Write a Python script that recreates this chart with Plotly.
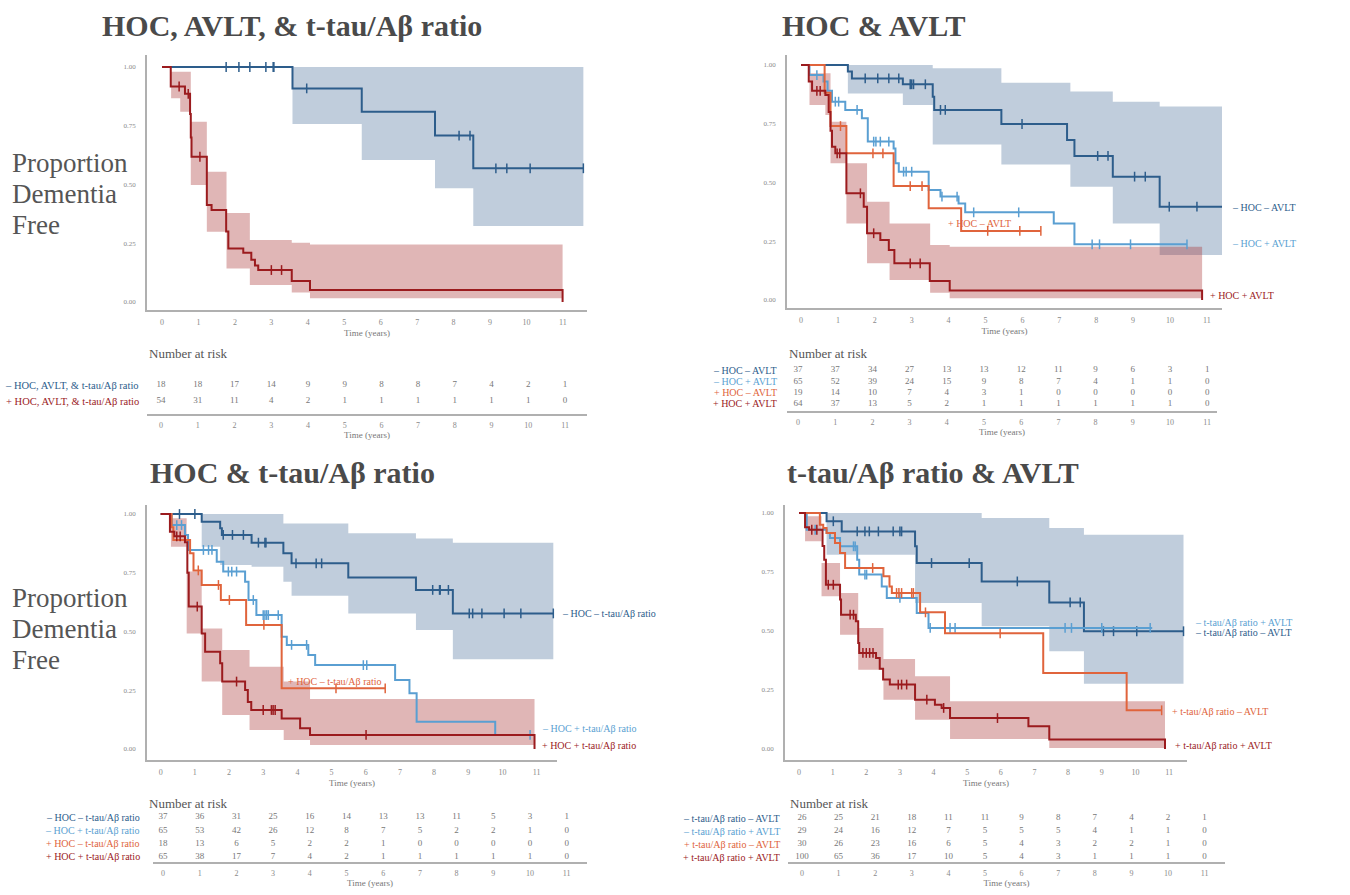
import plotly.graph_objects as go

W, H = 1350, 895
FONT = "Liberation Serif"
C_DB = "#2d5d8b"
C_LB = "#5a9fd2"
C_OR = "#e0643c"
C_DR = "#9b1b1e"
BAND_B = "rgba(60,100,145,0.32)"
BAND_R = "rgba(165,45,45,0.35)"
GRAY_AX = "#b0b0b0"
GRAY_TXT = "#8a8a8a"

RISK_TIMES = list(range(12))
Y_TICKS = [0, 0.25, 0.5, 0.75, 1.0]
Y_TICK_TEXT = ["0.00", "0.25", "0.50", "0.75", "1.00"]

# ---------------- Panel 1: HOC, AVLT, & t-tau/Abeta ratio ----------------
p1_neg_evt = [3.58, 5.48, 7.49, 8.54]
p1_neg_surv = [0.909, 0.81, 0.708, 0.569]
p1_neg_end = 11.56
p1_neg_cens = [1.76, 2.11, 2.41, 2.85, 3.05, 3.07, 3.97, 8.15, 8.45, 9.16, 9.46, 10.1, 11.56]
p1_neg_ci_t = [3.58, 5.48, 7.49, 8.54, 11.56]
p1_neg_ci_lo = [0.757, 0.604, 0.484, 0.323, 0.323]
p1_neg_ci_hi = [1.0, 1.0, 1.0, 1.0, 1.0]

p1_pos_evt = [0.24, 0.63, 0.77, 0.79, 0.81, 1.23, 1.36, 1.76, 1.82, 2.23, 2.45, 2.55, 2.64, 3.56, 4.06, 10.99]
p1_pos_surv = [0.917, 0.886, 0.80, 0.70, 0.618, 0.413, 0.391, 0.30, 0.228, 0.21, 0.18, 0.155, 0.136, 0.089, 0.051, 0.0]
p1_pos_end = 10.99
p1_pos_cens = [0.47, 0.72, 1.04, 3.0, 3.28]
p1_pos_ci_t = [0.25, 0.5, 0.79, 1.23, 1.77, 2.41, 3.56, 4.06, 10.99]
p1_pos_ci_lo = [0.867, 0.81, 0.498, 0.299, 0.143, 0.072, 0.04, 0.016, 0.016]
p1_pos_ci_hi = [0.98, 0.98, 0.767, 0.554, 0.379, 0.264, 0.252, 0.245, 0.245]

p1_risk_labels = ["– HOC, AVLT, & t-tau/Aβ ratio", "+ HOC, AVLT, & t-tau/Aβ ratio"]
p1_risk_neg = [18, 18, 17, 14, 9, 9, 8, 8, 7, 4, 2, 1]
p1_risk_pos = [54, 31, 11, 4, 2, 1, 1, 1, 1, 1, 1, 0]

# ---------------- Panel 2: HOC & AVLT ----------------
p2_nn_evt = [1.27, 1.38, 2.76, 3.57, 3.61, 5.43, 7.21, 7.41, 8.45, 9.72]
p2_nn_surv = [0.972, 0.943, 0.918, 0.865, 0.809, 0.749, 0.681, 0.613, 0.525, 0.397]
p2_nn_end = 11.41
p2_nn_cens = [1.74, 2.08, 2.38, 2.65, 2.96, 3.0, 3.05, 3.37, 3.78, 3.91, 5.99, 8.04, 8.32, 9.04, 9.33, 9.98, 10.73, 11.41]
p2_nn_ci_t = [1.27, 2.76, 3.57, 5.43, 7.3, 8.45, 9.72, 11.41]
p2_nn_ci_lo = [0.879, 0.83, 0.662, 0.577, 0.482, 0.326, 0.191, 0.191]
p2_nn_ci_hi = [1.0, 1.0, 0.986, 0.925, 0.887, 0.844, 0.823, 0.823]

p2_np_evt = [0.23, 0.61, 0.72, 0.84, 1.2, 1.65, 1.81, 2.51, 2.56, 2.65, 3.46, 3.78, 4.27, 4.45, 6.85, 7.41]
p2_np_surv = [0.957, 0.93, 0.89, 0.844, 0.809, 0.773, 0.674, 0.645, 0.582, 0.546, 0.468, 0.44, 0.411, 0.373, 0.326, 0.237]
p2_np_end = 10.46
p2_np_cens = [0.43, 0.93, 1.02, 1.52, 1.97, 2.03, 2.15, 2.38, 2.78, 2.85, 3.0, 3.82, 4.23, 4.68, 5.9, 7.89, 8.09, 8.93, 10.46]

p2_pn_evt = [0.64, 0.8, 1.23, 2.51, 3.46, 4.34]
p2_pn_surv = [0.882, 0.74, 0.624, 0.485, 0.39, 0.294]
p2_pn_end = 6.5
p2_pn_cens = [1.07, 1.95, 2.22, 2.96, 3.28, 5.06, 5.93, 6.5]

p2_pp_evt = [0.21, 0.3, 0.66, 0.75, 0.8, 0.84, 0.93, 1.23, 1.7, 1.79, 2.15, 2.38, 2.53, 3.49, 4.03, 10.87]
p2_pp_surv = [0.93, 0.89, 0.872, 0.8, 0.72, 0.652, 0.624, 0.454, 0.397, 0.284, 0.255, 0.213, 0.156, 0.081, 0.04, 0.0]
p2_pp_end = 10.87
p2_pp_cens = [0.43, 0.52, 0.98, 1.05, 1.61, 1.97, 2.96, 3.23]
p2_pp_ci_t = [0.23, 0.66, 0.8, 1.23, 1.79, 2.4, 3.5, 4.03, 10.87]
p2_pp_ci_lo = [0.83, 0.787, 0.582, 0.326, 0.156, 0.085, 0.031, 0.007, 0.007]
p2_pp_ci_hi = [0.965, 0.965, 0.759, 0.582, 0.418, 0.326, 0.234, 0.227, 0.227]

p2_labels = ["– HOC – AVLT", "– HOC + AVLT", "+ HOC – AVLT", "+ HOC + AVLT"]
p2_risk_nn = [37, 37, 34, 27, 13, 13, 12, 11, 9, 6, 3, 1]
p2_risk_np = [65, 52, 39, 24, 15, 9, 8, 7, 4, 1, 1, 0]
p2_risk_pn = [19, 14, 10, 7, 4, 3, 1, 0, 0, 0, 0, 0]
p2_risk_pp = [64, 37, 13, 5, 2, 1, 1, 1, 1, 1, 1, 0]

# ---------------- Panel 3: HOC & t-tau/Abeta ratio ----------------
p3_nn_evt = [1.2, 1.74, 1.79, 2.66, 3.59, 3.83, 5.49, 7.47, 8.55]
p3_nn_surv = [0.967, 0.939, 0.911, 0.878, 0.833, 0.79, 0.73, 0.677, 0.577]
p3_nn_end = 11.49
p3_nn_cens = [0.55, 1.0, 1.83, 2.1, 2.42, 2.86, 3.05, 3.08, 3.96, 4.55, 4.71, 7.96, 8.16, 8.18, 8.42, 9.03, 9.13, 9.4, 10.05, 10.54, 11.49]
p3_nn_ci_t = [1.2, 1.74, 2.66, 3.59, 3.83, 5.49, 7.47, 8.55, 11.49]
p3_nn_ci_lo = [0.861, 0.783, 0.776, 0.712, 0.652, 0.577, 0.506, 0.382, 0.382]
p3_nn_ci_hi = [1.0, 1.0, 1.0, 0.96, 0.96, 0.918, 0.896, 0.878, 0.878]

p3_np_evt = [0.32, 0.71, 0.8, 1.64, 1.83, 2.47, 2.57, 2.8, 3.54, 3.69, 4.32, 4.52, 6.86, 7.28, 7.49, 9.79]
p3_np_surv = [0.953, 0.911, 0.847, 0.797, 0.755, 0.712, 0.634, 0.57, 0.478, 0.443, 0.4, 0.357, 0.294, 0.237, 0.116, 0.06]
p3_np_end = 10.81
p3_np_cens = [0.47, 0.61, 1.25, 1.4, 1.5, 1.98, 2.08, 2.22, 2.71, 3.0, 3.05, 3.1, 3.15, 3.44, 3.83, 4.27, 5.93, 6.03, 10.81]

p3_pn_evt = [0.32, 0.37, 0.86, 0.96, 1.2, 1.76, 2.5, 3.54]
p3_pn_surv = [0.944, 0.889, 0.833, 0.76, 0.698, 0.634, 0.528, 0.258]
p3_pn_end = 6.57
p3_pn_cens = [1.1, 1.69, 2.01, 3.02, 5.13, 6.57]

p3_pp_evt = [0.27, 0.4, 0.71, 0.78, 0.82, 1.2, 1.3, 1.74, 1.8, 2.47, 2.55, 2.65, 3.54, 4.08, 4.37, 10.94]
p3_pp_surv = [0.925, 0.905, 0.88, 0.75, 0.606, 0.492, 0.414, 0.365, 0.287, 0.251, 0.2, 0.166, 0.13, 0.088, 0.06, 0.0]
p3_pp_end = 10.94
p3_pp_cens = [0.47, 0.57, 1.07, 2.22, 3.0, 3.24, 3.29, 3.35, 6.01]
p3_pp_ci_t = [0.3, 0.76, 1.2, 1.8, 2.6, 3.6, 4.37, 10.94]
p3_pp_ci_lo = [0.861, 0.492, 0.287, 0.145, 0.081, 0.038, 0.017, 0.017]
p3_pp_ci_hi = [0.982, 0.755, 0.513, 0.421, 0.35, 0.287, 0.213, 0.213]

p3_labels = ["– HOC – t-tau/Aβ ratio", "– HOC + t-tau/Aβ ratio", "+ HOC – t-tau/Aβ ratio", "+ HOC + t-tau/Aβ ratio"]
p3_risk_nn = [37, 36, 31, 25, 16, 14, 13, 13, 11, 5, 3, 1]
p3_risk_np = [65, 53, 42, 26, 12, 8, 7, 5, 2, 2, 1, 0]
p3_risk_pn = [18, 13, 6, 5, 2, 2, 1, 0, 0, 0, 0, 0]
p3_risk_pp = [65, 38, 17, 7, 4, 2, 1, 1, 1, 1, 1, 0]

# ---------------- Panel 4: t-tau/Abeta ratio & AVLT ----------------
p4_nn_evt = [0.82, 1.27, 3.45, 3.5, 5.43, 7.44, 8.47]
p4_nn_surv = [0.965, 0.922, 0.859, 0.788, 0.71, 0.621, 0.499]
p4_nn_end = 11.43
p4_nn_cens = [1.02, 1.73, 1.96, 2.09, 2.36, 2.8, 3.0, 3.05, 3.94, 5.06, 6.49, 8.06, 8.36, 9.05, 9.35, 10.04, 11.43]
p4_nn_ci_t = [0.82, 3.45, 5.43, 7.44, 8.47, 11.43]
p4_nn_ci_lo = [0.823, 0.619, 0.52, 0.414, 0.277, 0.277]
p4_nn_ci_hi = [1.0, 1.0, 0.979, 0.936, 0.908, 0.908]

p4_np_evt = [0.23, 0.82, 0.92, 1.22, 1.73, 1.79, 2.46, 2.61, 3.5, 3.85]
p4_np_surv = [0.929, 0.915, 0.894, 0.859, 0.802, 0.739, 0.689, 0.64, 0.576, 0.513]
p4_np_end = 10.5
p4_np_cens = [0.48, 1.62, 1.67, 1.96, 2.01, 3.0, 3.9, 4.49, 4.64, 7.91, 8.1, 9.0, 10.44]

p4_pn_evt = [0.62, 0.72, 0.82, 1.07, 1.22, 1.37, 2.51, 2.69, 2.76, 3.6, 4.34, 7.26, 9.74]
p4_pn_surv = [0.95, 0.936, 0.915, 0.873, 0.831, 0.767, 0.732, 0.689, 0.661, 0.579, 0.49, 0.322, 0.164]
p4_pn_end = 10.78
p4_pn_cens = [2.19, 2.9, 2.97, 3.05, 3.35, 3.4, 3.76, 5.98, 10.78]

p4_pp_evt = [0.18, 0.3, 0.7, 0.75, 0.8, 1.22, 1.25, 1.69, 1.76, 1.79, 2.29, 2.4, 2.5, 2.7, 3.45, 4.04, 4.24, 4.49, 6.82, 7.44, 10.88]
p4_pp_surv = [0.94, 0.929, 0.86, 0.802, 0.696, 0.633, 0.569, 0.541, 0.449, 0.407, 0.386, 0.34, 0.294, 0.273, 0.209, 0.188, 0.174, 0.131, 0.096, 0.04, 0.0]
p4_pp_end = 10.88
p4_pp_cens = [0.38, 0.53, 0.87, 1.02, 1.52, 1.62, 1.9, 2.0, 2.1, 2.2, 2.95, 3.05, 3.2, 3.8, 4.3, 5.9]
p4_pp_ci_t = [0.18, 0.67, 1.22, 1.76, 2.51, 3.45, 4.49, 7.44, 10.88]
p4_pp_ci_lo = [0.88, 0.647, 0.484, 0.336, 0.209, 0.124, 0.042, 0.004, 0.004]
p4_pp_ci_hi = [0.986, 0.788, 0.661, 0.513, 0.381, 0.308, 0.202, 0.202, 0.202]

p4_labels = ["– t-tau/Aβ ratio – AVLT", "– t-tau/Aβ ratio + AVLT", "+ t-tau/Aβ ratio – AVLT", "+ t-tau/Aβ ratio + AVLT"]
p4_risk_nn = [26, 25, 21, 18, 11, 11, 9, 8, 7, 4, 2, 1]
p4_risk_np = [29, 24, 16, 12, 7, 5, 5, 5, 4, 1, 1, 0]
p4_risk_pn = [30, 26, 23, 16, 6, 5, 4, 3, 2, 2, 1, 0]
p4_risk_pp = [100, 65, 36, 17, 10, 5, 4, 3, 1, 1, 1, 0]

TITLES = ["HOC, AVLT, & t-tau/Aβ ratio", "HOC & AVLT", "HOC & t-tau/Aβ ratio", "t-tau/Aβ ratio & AVLT"]

# ---------------- helpers ----------------
def fx(p):
    return p / W

def fy(p):
    return 1 - p / H

def surv_at(evt, surv, t):
    s = 1.0
    for e, v in zip(evt, surv):
        if e <= t:
            s = v
    return s

fig = go.Figure()
layout = {}
annotations = []

def add_plot_axes(i, xpx, t0, ppy, ypx, s0, ppu):
    xr = [(xpx[0] - t0) / ppy, (xpx[1] - t0) / ppy]
    yr = [(s0 - ypx[1]) / ppu, (s0 - ypx[0]) / ppu]
    layout["xaxis%d" % i] = dict(
        domain=[fx(xpx[0]), fx(xpx[1])], range=xr, anchor="y%d" % i,
        showline=True, linecolor=GRAY_AX, linewidth=1.5, showgrid=False, zeroline=False,
        tickvals=RISK_TIMES, ticks="", ticklabelstandoff=4,
        tickfont=dict(family=FONT, size=8, color=GRAY_TXT),
        title=dict(text="Time (years)", font=dict(family=FONT, size=9, color="#777"), standoff=3),
    )
    layout["yaxis%d" % i] = dict(
        domain=[fy(ypx[1]), fy(ypx[0])], range=yr, anchor="x%d" % i,
        showline=True, linecolor=GRAY_AX, linewidth=1.5, showgrid=False, zeroline=False,
        tickvals=Y_TICKS, ticktext=Y_TICK_TEXT, ticks="", ticklabelstandoff=8,
        tickfont=dict(family=FONT, size=7, color=GRAY_TXT),
    )

def add_table_axes(i, xpx, t0, ppy, first_row, spacing, line_y, top_y):
    xr = [(xpx[0] - t0) / ppy, (xpx[1] - t0) / ppy]
    yr = [(line_y - first_row) / spacing, (top_y - first_row) / spacing]
    layout["xaxis%d" % i] = dict(
        domain=[fx(xpx[0]), fx(xpx[1])], range=xr, anchor="y%d" % i,
        showline=True, linecolor=GRAY_AX, linewidth=1.5, showgrid=False, zeroline=False,
        tickvals=RISK_TIMES, ticks="", ticklabelstandoff=3,
        tickfont=dict(family=FONT, size=8, color=GRAY_TXT),
        title=dict(text="Time (years)", font=dict(family=FONT, size=9, color="#777"), standoff=2),
    )
    layout["yaxis%d" % i] = dict(
        domain=[fy(line_y), fy(top_y)], range=yr, anchor="x%d" % i,
        visible=False, showgrid=False, zeroline=False,
    )

def add_band(i, t, lo, hi, color):
    fig.add_trace(go.Scatter(x=t, y=lo, mode="lines", line=dict(width=0, shape="hv"),
                             xaxis="x%d" % i, yaxis="y%d" % i, showlegend=False, hoverinfo="skip"))
    fig.add_trace(go.Scatter(x=t, y=hi, mode="lines", line=dict(width=0, shape="hv"),
                             fill="tonexty", fillcolor=color,
                             xaxis="x%d" % i, yaxis="y%d" % i, showlegend=False, hoverinfo="skip"))

def add_curve(i, evt, surv, end, cens, color):
    xs = [0] + list(evt) + [end]
    ys = [1.0] + list(surv) + [surv[-1]]
    fig.add_trace(go.Scatter(x=xs, y=ys, mode="lines", line=dict(color=color, width=2, shape="hv"),
                             xaxis="x%d" % i, yaxis="y%d" % i, showlegend=False))
    fig.add_trace(go.Scatter(x=cens, y=[surv_at(evt, surv, c) for c in cens], mode="markers",
                             marker=dict(symbol="line-ns", size=7, line=dict(width=1.5, color=color)),
                             cliponaxis=False,
                             xaxis="x%d" % i, yaxis="y%d" % i, showlegend=False))

def add_table(i, rows, labels, colors, label_right, label_size):
    for r, (vals, lab, col) in enumerate(zip(rows, labels, colors)):
        fig.add_trace(go.Scatter(x=RISK_TIMES, y=[r] * len(vals), mode="text",
                                 text=[str(v) for v in vals],
                                 textfont=dict(family=FONT, size=9, color="#777"),
                                 xaxis="x%d" % i, yaxis="y%d" % i, showlegend=False, hoverinfo="skip"))
        annotations.append(dict(text=lab, xref="paper", x=fx(label_right), xanchor="right",
                                yref="y%d" % i, y=r, yanchor="middle", showarrow=False,
                                font=dict(family=FONT, size=label_size, color=col)))

def text_ann(txt, xp, yp, size, color, xanchor="left", bold=False):
    annotations.append(dict(text=("<b>%s</b>" % txt) if bold else txt, xref="paper", yref="paper",
                            x=fx(xp), y=fy(yp), xanchor=xanchor, yanchor="middle", showarrow=False,
                            font=dict(family=FONT, size=size, color=color)))

# ---------------- axes ----------------
add_plot_axes(1, (147, 587), 162, 36.45, (55, 310), 302, 235)
add_plot_axes(2, (787, 1222), 801, 36.9, (55, 308), 300, 235)
add_plot_axes(3, (147, 557), 160.7, 34.17, (505, 760), 749, 235)
add_plot_axes(4, (785, 1187), 799, 33.64, (505, 760), 749, 236)

add_table_axes(5, (147, 587), 161, 36.73, 385, 16, 414, 362)
add_table_axes(6, (787, 1217), 798, 37.2, 370, 11.3, 411, 362)
add_table_axes(7, (153, 587), 163, 36.7, 817, 13.3, 862, 810)
add_table_axes(8, (788, 1225), 802, 36.6, 818, 13, 862, 810)

# ---------------- panel 1 ----------------
add_band(1, p1_neg_ci_t, p1_neg_ci_lo, p1_neg_ci_hi, BAND_B)
add_band(1, p1_pos_ci_t, p1_pos_ci_lo, p1_pos_ci_hi, BAND_R)
add_curve(1, p1_neg_evt, p1_neg_surv, p1_neg_end, p1_neg_cens, C_DB)
add_curve(1, p1_pos_evt, p1_pos_surv, p1_pos_end, p1_pos_cens, C_DR)

# ---------------- panel 2 ----------------
add_band(2, p2_nn_ci_t, p2_nn_ci_lo, p2_nn_ci_hi, BAND_B)
add_band(2, p2_pp_ci_t, p2_pp_ci_lo, p2_pp_ci_hi, BAND_R)
add_curve(2, p2_nn_evt, p2_nn_surv, p2_nn_end, p2_nn_cens, C_DB)
add_curve(2, p2_np_evt, p2_np_surv, p2_np_end, p2_np_cens, C_LB)
add_curve(2, p2_pn_evt, p2_pn_surv, p2_pn_end, p2_pn_cens, C_OR)
add_curve(2, p2_pp_evt, p2_pp_surv, p2_pp_end, p2_pp_cens, C_DR)

# ---------------- panel 3 ----------------
add_band(3, p3_nn_ci_t, p3_nn_ci_lo, p3_nn_ci_hi, BAND_B)
add_band(3, p3_pp_ci_t, p3_pp_ci_lo, p3_pp_ci_hi, BAND_R)
add_curve(3, p3_nn_evt, p3_nn_surv, p3_nn_end, p3_nn_cens, C_DB)
add_curve(3, p3_np_evt, p3_np_surv, p3_np_end, p3_np_cens, C_LB)
add_curve(3, p3_pn_evt, p3_pn_surv, p3_pn_end, p3_pn_cens, C_OR)
add_curve(3, p3_pp_evt, p3_pp_surv, p3_pp_end, p3_pp_cens, C_DR)

# ---------------- panel 4 ----------------
add_band(4, p4_nn_ci_t, p4_nn_ci_lo, p4_nn_ci_hi, BAND_B)
add_band(4, p4_pp_ci_t, p4_pp_ci_lo, p4_pp_ci_hi, BAND_R)
add_curve(4, p4_nn_evt, p4_nn_surv, p4_nn_end, p4_nn_cens, C_DB)
add_curve(4, p4_np_evt, p4_np_surv, p4_np_end, p4_np_cens, C_LB)
add_curve(4, p4_pn_evt, p4_pn_surv, p4_pn_end, p4_pn_cens, C_OR)
add_curve(4, p4_pp_evt, p4_pp_surv, p4_pp_end, p4_pp_cens, C_DR)

# ---------------- risk tables ----------------
COLS4 = [C_DB, C_LB, C_OR, C_DR]
add_table(5, [p1_risk_neg, p1_risk_pos], p1_risk_labels, [C_DB, C_DR], 141, 10.5)
add_table(6, [p2_risk_nn, p2_risk_np, p2_risk_pn, p2_risk_pp], p2_labels, COLS4, 779, 10)
add_table(7, [p3_risk_nn, p3_risk_np, p3_risk_pn, p3_risk_pp], p3_labels, COLS4, 142, 10)
add_table(8, [p4_risk_nn, p4_risk_np, p4_risk_pn, p4_risk_pp], p4_labels, COLS4, 782, 10)

for xp, yp in [(147, 353), (787, 353), (147, 803), (788, 803)]:
    text_ann("Number at risk", xp, yp, 13, "#555")

# ---------------- titles & side labels ----------------
text_ann(TITLES[0], 100, 25, 30, "#4a4a4a", bold=True)
text_ann(TITLES[1], 780, 25, 30, "#4a4a4a", bold=True)
text_ann(TITLES[2], 148, 472, 30, "#4a4a4a", bold=True)
text_ann(TITLES[3], 785, 472, 30, "#4a4a4a", bold=True)

for base in (163, 598):
    for k, word in enumerate(["Proportion", "Dementia", "Free"]):
        text_ann(word, 10, base + 31 * k, 27, "#555")

# curve labels
text_ann(p2_labels[0], 1230, 207, 10, C_DB)
text_ann(p2_labels[1], 1230, 243, 10, C_LB)
text_ann(p2_labels[2], 946, 223, 10, C_OR)
text_ann(p2_labels[3], 1208, 295, 10, C_DR)

text_ann(p3_labels[0], 560, 613, 10, C_DB)
text_ann(p3_labels[2], 286, 681, 10, C_OR)
text_ann(p3_labels[1], 540, 728, 10, C_LB)
text_ann(p3_labels[3], 540, 745, 10, C_DR)

text_ann(p4_labels[1], 1193, 622, 10, C_LB)
text_ann(p4_labels[0], 1193, 632, 10, C_DB)
text_ann(p4_labels[2], 1170, 711, 10, C_OR)
text_ann(p4_labels[3], 1173, 745, 10, C_DR)

fig.update_layout(
    width=W, height=H, margin=dict(l=0, r=0, t=0, b=0),
    paper_bgcolor="white", plot_bgcolor="white",
    font=dict(family=FONT), showlegend=False,
    annotations=annotations, **layout,
)

fig.write_html("out.html", config={"displayModeBar": False},
               post_script="document.body.style.margin='0';")
